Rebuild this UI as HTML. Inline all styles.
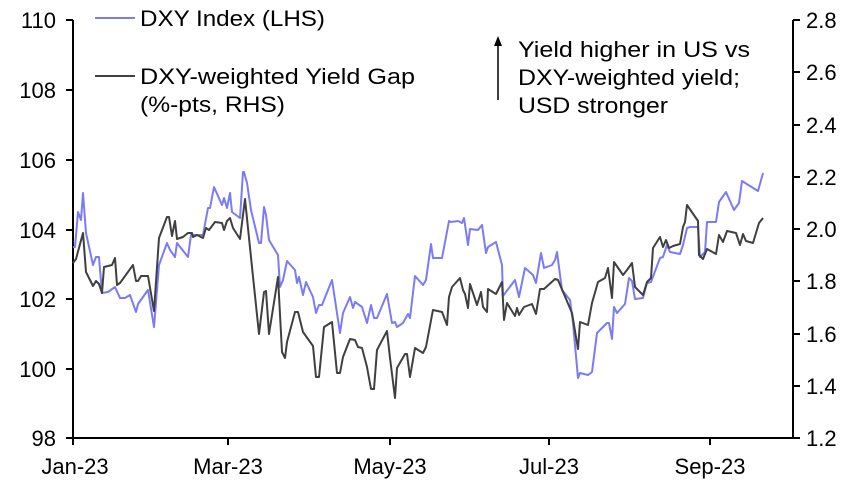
<!DOCTYPE html>
<html><head><meta charset="utf-8"><style>
body{margin:0;background:#fff}
svg text{font-family:"Liberation Sans",Arial,sans-serif;font-size:22px;fill:#000}
</style></head><body>
<svg width="864" height="484" viewBox="0 0 864 484" xmlns="http://www.w3.org/2000/svg">
<g stroke="#000" stroke-width="2" fill="none">
<line x1="73" y1="20" x2="73" y2="439"/>
<line x1="793" y1="20" x2="793" y2="439"/>
<line x1="72" y1="438" x2="794" y2="438"/>
<line x1="66" y1="20" x2="73" y2="20"/><line x1="66" y1="90" x2="73" y2="90"/><line x1="66" y1="160" x2="73" y2="160"/><line x1="66" y1="230" x2="73" y2="230"/><line x1="66" y1="299" x2="73" y2="299"/><line x1="66" y1="369" x2="73" y2="369"/><line x1="66" y1="438" x2="73" y2="438"/>
<line x1="793" y1="20" x2="800" y2="20"/><line x1="793" y1="72" x2="800" y2="72"/><line x1="793" y1="125" x2="800" y2="125"/><line x1="793" y1="177" x2="800" y2="177"/><line x1="793" y1="229" x2="800" y2="229"/><line x1="793" y1="281" x2="800" y2="281"/><line x1="793" y1="334" x2="800" y2="334"/><line x1="793" y1="386" x2="800" y2="386"/><line x1="793" y1="438" x2="800" y2="438"/>
<line x1="73" y1="438" x2="73" y2="445"/><line x1="228" y1="438" x2="228" y2="445"/><line x1="390" y1="438" x2="390" y2="445"/><line x1="549" y1="438" x2="549" y2="445"/><line x1="710" y1="438" x2="710" y2="445"/>
</g>
<g text-anchor="end">
<text x="56" y="28">110</text><text x="56" y="98">108</text><text x="56" y="168">106</text><text x="56" y="238">104</text><text x="56" y="307">102</text><text x="56" y="377">100</text><text x="56" y="446">98</text>
</g>
<g>
<text x="806" y="28">2.8</text><text x="806" y="80">2.6</text><text x="806" y="133">2.4</text><text x="806" y="185">2.2</text><text x="806" y="237">2.0</text><text x="806" y="289">1.8</text><text x="806" y="342">1.6</text><text x="806" y="394">1.4</text><text x="806" y="446">1.2</text>
</g>
<g text-anchor="middle">
<text x="75" y="474">Jan-23</text><text x="228" y="474">Mar-23</text><text x="390" y="474">May-23</text><text x="549" y="474">Jul-23</text><text x="710" y="474">Sep-23</text>
</g>
<polyline fill="none" stroke="#7b7bf5" stroke-width="2" stroke-linejoin="round" points="73,247 75,247 78,212 81,220 83,193 86,233 93,265 96,257 99,257 102,293 108,292 115,287 120,298 125,298 130,295 136,312 138,304 148,290 154,327 159,265 167,243 170,250 175,257 177,243 188,257 191,235 203,235 208,208 210,208 214,187 222,205 224,198 227,208 230,193 232,212 240,218 243,172 244,172 247,183 251,210 259,243 261,243 264,207 266,215 269,240 278,255 280,287 283,280 287,261 295,270 297,283 299,277 303,295 306,282 313,297 316,313 319,305 322,305 332,280 340,333 343,313 350,297 353,308 355,302 362,307 367,323 371,305 374,318 377,318 387,294 392,323 395,322 397,327 403,323 408,314 410,318 415,276 423,285 426,280 431,244 433,258 442,258 449,221 451,222 458,221 462,223 464,218 468,245 470,229 478,230 482,225 486,253 488,247 496,242 502,265 503,296 515,280 519,297 525,268 533,275 536,283 541,253 544,268 552,265 555,260 557,252 562,290 570,300 573,323 578,378 580,373 588,375 592,372 597,333 607,323 609,323 612,339 614,307 617,313 625,304 629,278 632,281 635,299 643,298 647,283 651,282 660,258 663,257 667,245 670,252 680,254 683,245 687,228 690,227 698,227 700,257 705,252 707,222 716,222 719,202 726,192 734,210 739,203 742,181 758,191 763,173"/>
<polyline fill="none" stroke="#404040" stroke-width="2" stroke-linejoin="round" points="73,263 76,259 83,233 86,272 93,286 96,281 99,284 102,293 104,267 112,265 115,258 117,285 120,283 133,265 136,281 138,281 141,276 148,276 154,311 159,238 167,217 169,217 172,236 175,221 177,239 183,237 188,233 192,233 193,237 197,235 203,238 206,228 209,230 215,222 222,223 224,230 227,221 230,218 233,228 240,239 245,199 252,267 259,334 264,292 266,291 269,334 278,277 282,352 285,358 287,342 295,312 298,312 303,332 313,346 316,377 319,377 324,327 332,322 337,373 340,373 343,357 350,339 355,340 358,347 362,348 367,367 371,389 374,389 377,350 387,331 390,358 395,398 397,368 405,354 407,354 410,377 415,348 423,353 426,347 432,315 433,310 442,312 447,325 449,297 452,287 460,278 463,290 465,294 468,308 470,284 477,305 481,292 483,307 487,312 488,289 496,294 502,282 504,320 507,303 515,316 517,308 519,315 524,307 532,304 536,314 540,289 544,289 555,279 558,280 572,313 578,349 580,322 588,325 592,303 598,282 605,278 608,268 612,298 614,262 623,275 627,270 632,263 635,287 643,295 647,282 651,278 653,248 660,237 663,247 666,240 669,248 673,246 680,244 683,227 685,222 687,205 698,221 699,255 703,259 707,249 716,254 719,235 723,242 727,231 736,233 740,245 743,234 746,241 753,243 759,223 763,218"/>
<line x1="95" y1="18" x2="135" y2="18" stroke="#7b7bf5" stroke-width="2"/>
<text x="140" y="26" textLength="185" lengthAdjust="spacingAndGlyphs">DXY Index (LHS)</text>
<line x1="95" y1="76" x2="135" y2="76" stroke="#404040" stroke-width="2"/>
<text x="140" y="84" textLength="275" lengthAdjust="spacingAndGlyphs">DXY-weighted Yield Gap</text>
<text x="140" y="112" textLength="145" lengthAdjust="spacingAndGlyphs">(%-pts, RHS)</text>
<line x1="498" y1="100" x2="498" y2="44" stroke="#000" stroke-width="1.5"/>
<polygon points="498,36 494,46 502,46" fill="#000"/>
<text x="518" y="57" textLength="232" lengthAdjust="spacingAndGlyphs">Yield higher in US vs</text>
<text x="518" y="85" textLength="222" lengthAdjust="spacingAndGlyphs">DXY-weighted yield;</text>
<text x="518" y="113" textLength="150" lengthAdjust="spacingAndGlyphs">USD stronger</text>
</svg>
</body></html>
